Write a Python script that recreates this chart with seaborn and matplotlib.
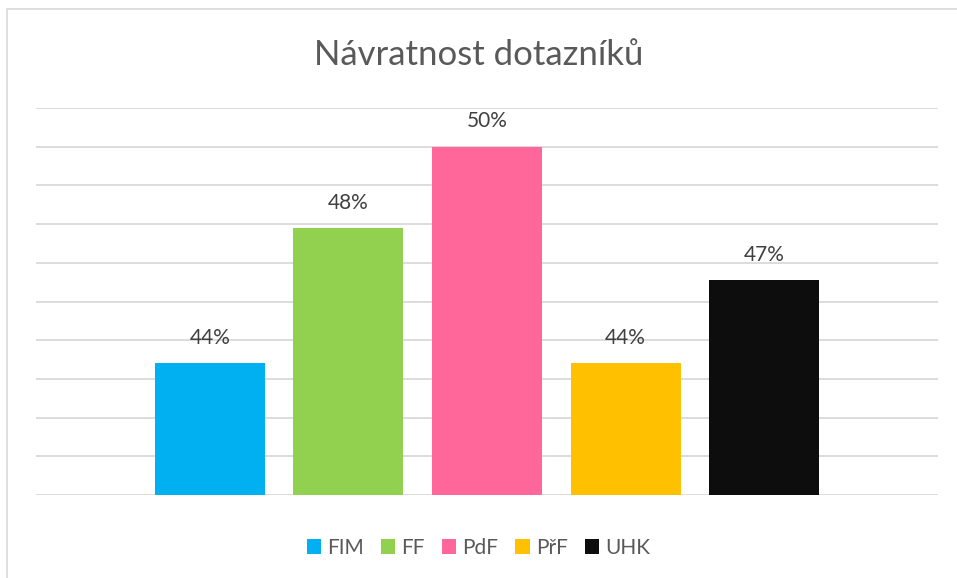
import matplotlib
matplotlib.use("Agg")
import matplotlib.pyplot as plt
import seaborn as sns
import pandas as pd
from matplotlib.patches import Rectangle

categories = ["FIM", "FF", "PdF", "PřF", "UHK"]
values = [44.4, 47.9, 50.0, 44.4, 46.55]
colors = ["#00B0F0", "#92D050", "#FF6699", "#FFC000", "#0D0D0D"]
title = "Návratnost dotazníků"
y_min, y_max, y_step = 41, 51, 1

sns.set_theme(style="white")
plt.rcParams["font.family"] = ["Lato", "DejaVu Sans"]

df = pd.DataFrame({"cat": categories, "val": values})

fig = plt.figure(figsize=(9.57, 5.78), dpi=100)
fig.patches.append(Rectangle((7 / 957, -0.01), 1.0, 1 - 9 / 578 + 0.01,
                             transform=fig.transFigure, fill=False,
                             edgecolor="#D9D9D9", linewidth=1.2, zorder=0))
ax = fig.add_axes([36 / 957, 1 - 495 / 578, (938 - 36) / 957, (495 - 108) / 578])

sns.barplot(data=df, x="cat", y="val", hue="cat", palette=colors,
            width=0.794, dodge=False, legend=True, ax=ax, saturation=1,
            edgecolor="none", zorder=3)

ax.set_ylim(y_min, y_max)
ax.set_xlim(-1.256, 5.256)
ax.set_yticks(range(y_min, y_max + 1, y_step))
ax.yaxis.grid(True, color="#D9D9D9", linewidth=1.3)
ax.set_axisbelow(True)
ax.set_xticks([])
ax.set_yticklabels([])
ax.tick_params(left=False, bottom=False)
ax.set_xlabel("")
ax.set_ylabel("")
for s in ax.spines.values():
    s.set_visible(False)

for i, v in enumerate(values):
    ax.annotate(f"{round(v + 1e-9):.0f}%", (i, v), xytext=(0, 11),
                textcoords="offset points", ha="center", va="bottom",
                fontsize=15, color="#404040", annotation_clip=False)

handles, labels = ax.get_legend_handles_labels()
ax.legend(handles, labels, loc="center", bbox_to_anchor=(0.5, (578 - 548) / 578),
          bbox_transform=fig.transFigure, ncol=5, frameon=False,
          fontsize=15, handlelength=0.7, handleheight=0.7,
          handletextpad=0.3, columnspacing=0.8, labelcolor="#595959")

fig.text(0.5, 1 - 55 / 578, title, ha="center", va="center",
         fontsize=25, color="#595959")

fig.savefig("out.png", dpi=100)
